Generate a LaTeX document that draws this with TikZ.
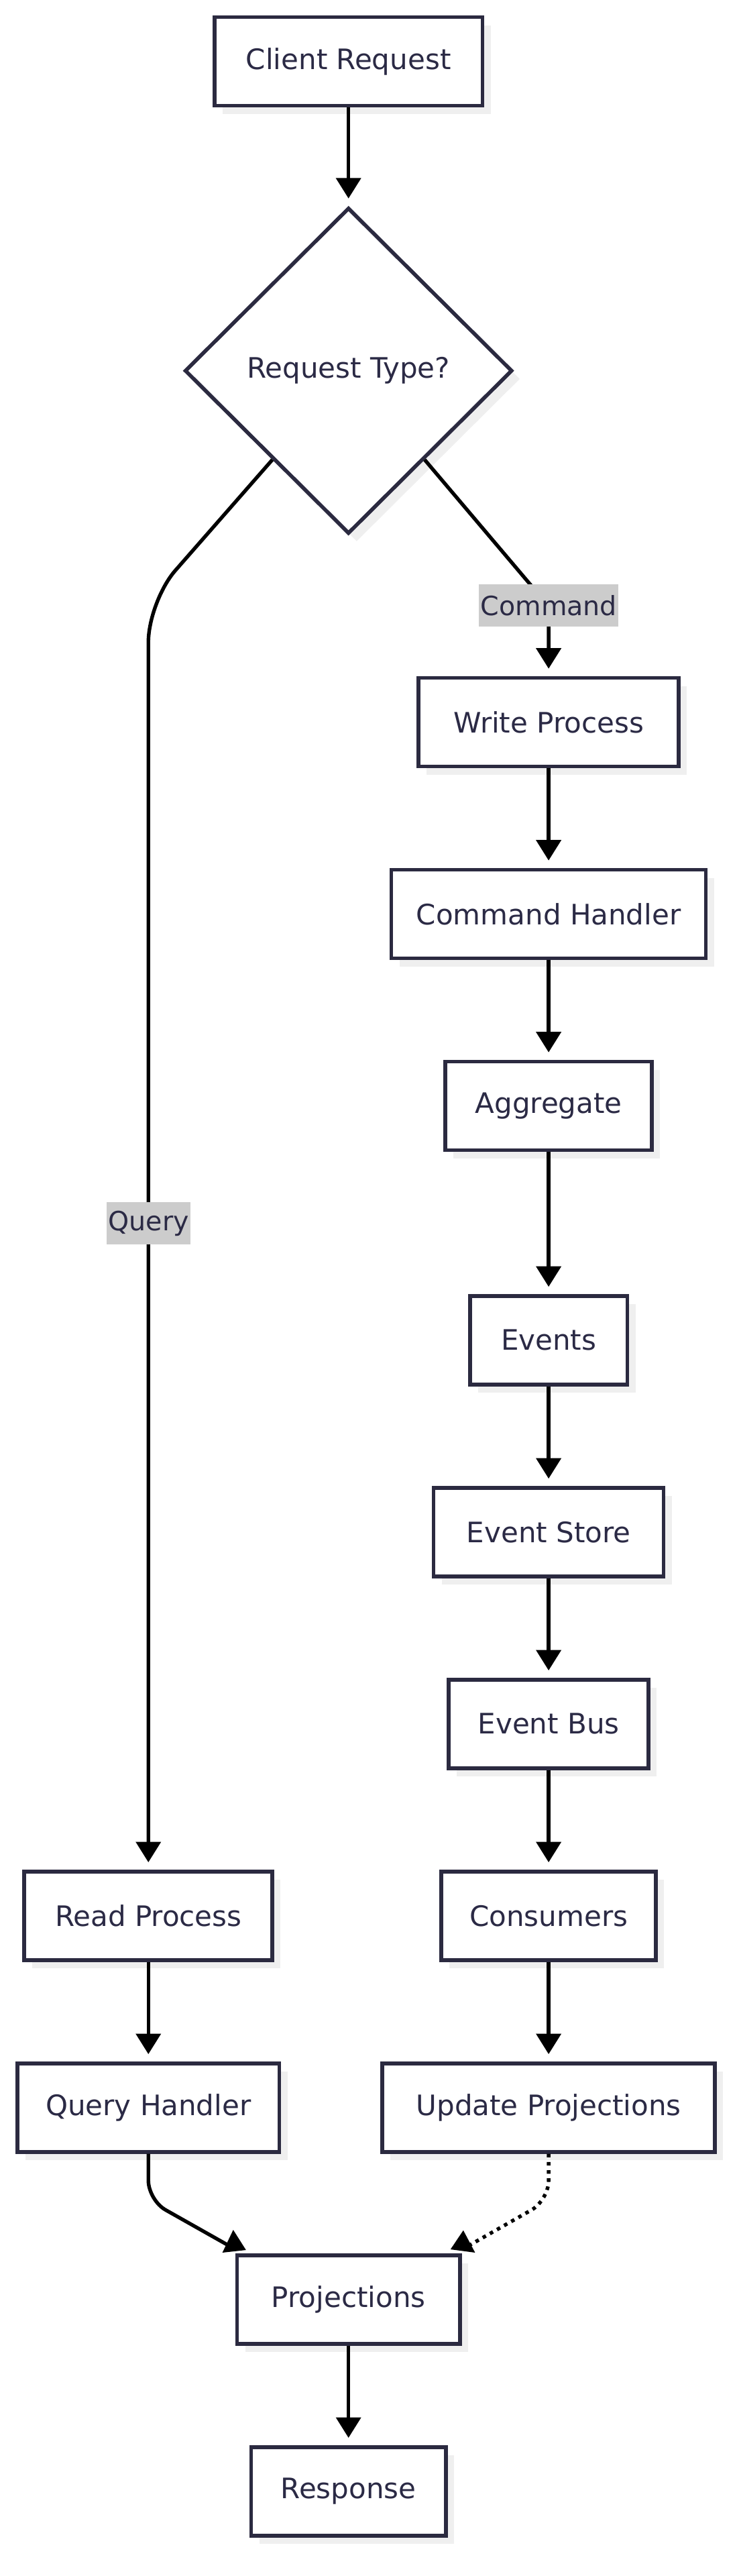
\documentclass[tikz,border=0pt]{standalone}
\usepackage{fontspec}
\setmainfont{DejaVu Sans}
\usetikzlibrary{arrows.meta,shapes.geometric,calc,shadows}
\definecolor{nodeline}{HTML}{2B2A40}
\definecolor{txt}{HTML}{2B2A45}
\definecolor{shadowgray}{HTML}{EFEFEF}
\definecolor{lblbg}{HTML}{CCCCCC}
\begin{document}
\begin{tikzpicture}[x=1pt,y=-1pt,
  box/.style={draw=nodeline, line width=2.3pt, fill=white, text=txt,
    font=\fontsize{17.2}{20}\selectfont, minimum height=54pt, inner sep=0pt,
    general shadow={fill=shadowgray, shadow xshift=5pt, shadow yshift=-5pt}},
  lbl/.style={fill=lblbg, text=txt, font=\fontsize{16.2}{19}\selectfont,
    inner xsep=1pt, inner ysep=0pt, minimum height=25.6pt},
  conn/.style={draw=black, line width=2.2pt},
  edge/.style={conn, -{Triangle[length=12.5pt,width=15pt]}, shorten >=4.5pt},
  dotline/.style={conn, dash pattern=on 2.2pt off 2.8pt}
]
\useasboundingbox (0,0) rectangle (450,1572.4);

% nodes
\node[box, minimum width=163.7pt] (cr) at (212.8,37.5) {Client Request};
\node[box, shape=diamond, minimum width=200pt, minimum height=199pt] (d) at (212.8,226.3) {Request Type?};
\node[box, minimum width=159pt] (write) at (335,440.8) {Write Process};
\node[box, minimum width=192pt] (ch) at (335,557.9) {Command Handler};
\node[box, minimum width=126pt] (agg) at (335,675.0) {Aggregate};
\node[box, minimum width=96pt] (ev) at (335,818.1) {Events};
\node[box, minimum width=140.5pt] (es) at (335,935.2) {Event Store};
\node[box, minimum width=122pt] (eb) at (335,1052.3) {Event Bus};
\node[box, minimum width=131pt] (cons) at (335,1169.4) {Consumers};
\node[box, minimum width=203pt] (up) at (335,1286.5) {Update Projections};
\node[box, minimum width=151.5pt] (read) at (90.6,1169.4) {Read Process};
\node[box, minimum width=160pt] (qh) at (90.6,1286.5) {Query Handler};
\node[box, minimum width=136pt] (proj) at (212.8,1403.6) {Projections};
\node[box, minimum width=119pt] (resp) at (212.8,1520.7) {Response};

% connectors
\draw[edge] (cr.south) -- (d.north);
\coordinate (qbend) at (90.6,367);
\coordinate (cbend) at (335,370);
\draw[edge, rounded corners=25pt] ($(d.south)!0.46!(d.west)$) -- (qbend) -- (read.north);
\draw[edge, rounded corners=10pt] ($(d.south)!0.46!(d.east)$) -- (cbend) -- (write.north);
\draw[edge] (write.south) -- (ch.north);
\draw[edge] (ch.south) -- (agg.north);
\draw[edge] (agg.south) -- (ev.north);
\draw[edge] (ev.south) -- (es.north);
\draw[edge] (es.south) -- (eb.north);
\draw[edge] (eb.south) -- (cons.north);
\draw[edge] (cons.south) -- (up.north);
\draw[edge] (read.south) -- (qh.north);
\draw[edge] (proj.south) -- (resp.north);

\coordinate (qhb) at (90.6,1343);
\coordinate (upb) at (335,1343);
\coordinate (pl) at (142,1372);
\coordinate (pr) at (284,1372);
\draw[conn, rounded corners=12pt] (qh.south) -- (qhb) -- (pl);
\draw[dotline, rounded corners=12pt] (up.south) -- (upb) -- (pr);
\fill[black] (142.4,1361.1) -- (135.8,1375.0) -- (150.2,1373.4) -- cycle;
\fill[black] (282.9,1361.4) -- (275.1,1373) -- (290.1,1375) -- cycle;

% edge labels
\node[lbl] (lq) at (90.8,746.7) {Query};
\node[lbl] (lc) at (335.1,369.5) {Command};
\end{tikzpicture}
\end{document}
